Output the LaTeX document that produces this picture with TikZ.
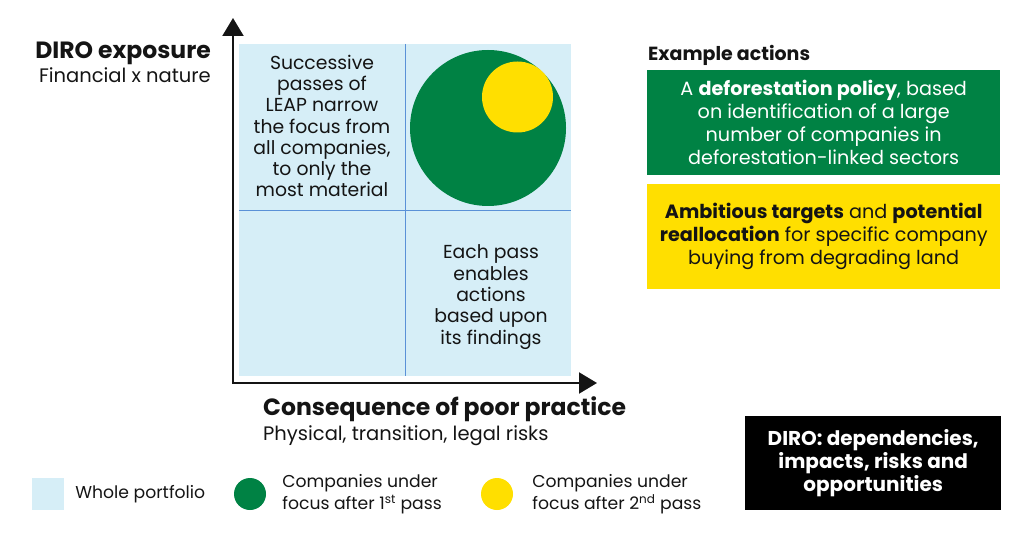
\documentclass[tikz,border=0pt]{standalone}
\usepackage{fontspec}
\setmainfont{Poppins}
\usetikzlibrary{arrows.meta, positioning}

\definecolor{leapgreen}{RGB}{0,130,68}
\definecolor{leapyellow}{RGB}{255,223,0}
\definecolor{leapblue}{RGB}{214,238,247}
\definecolor{gridblue}{RGB}{90,145,215}
\definecolor{ink}{RGB}{20,20,20}

\begin{document}
\begin{tikzpicture}[x=1pt, y=-1pt,
        arr/.style={{Triangle[length=18pt,width=21pt]}-{Triangle[length=18pt,width=21pt]},
                    line width=2.2pt, ink},
        grid/.style={gridblue, line width=1pt},
        quad/.style={align=center, text=ink, font=\fontsize{18.8}{21.3}\selectfont},
        head/.style={inner sep=0pt, text=ink, font=\fontsize{23.5}{26}\selectfont\bfseries},
        sub/.style={inner sep=0pt, text=ink, font=\fontsize{19.5}{22}\selectfont},
        act/.style={anchor=north west, minimum width=353pt, minimum height=105pt,
                    inner sep=0pt, align=center, font=\fontsize{19.2}{23}\selectfont},
        dot/.style={circle, inner sep=0pt, minimum size=32pt},
        key/.style={align=left, inner sep=0pt, text=ink,
                    font=\fontsize{17.2}{22}\selectfont},
        node distance=11pt]
      \useasboundingbox (0,0) rectangle (1024,534);
      % matrix
      \node[fill=leapblue, anchor=north west, minimum size=332pt, inner sep=0pt] (pf) at (239,44) {};
      \draw[grid] (pf.north) -- (pf.south);
      \draw[grid] (pf.west) -- (pf.east);
      \node[circle, fill=leapgreen, minimum size=156pt, inner sep=0pt] (pass1) at (488,128) {};
      \node[circle, fill=leapyellow, minimum size=71pt, inner sep=0pt] (pass2) at (517.5,97) {};
      \node[quad] (narrow) at (322,126) {Successive\\passes of\\LEAP narrow\\the focus from\\all companies,\\to only the\\most material};
      \node[quad] (enable) at (491,297) {Each pass\\enables\\actions\\based upon\\its findings};
      % axes
      \coordinate (o) at (233,383);
      \coordinate (ytip) at (233,18);
      \coordinate (xtip) at (597,383);
      \draw[arr] (ytip) -- (o) -- (xtip);
      \node[head, anchor=base east] (ytitle) at (211,59) {DIRO exposure};
      \node[sub, anchor=base east] (ysub) at (211,83) {Financial x nature};
      \node[head, anchor=base west] (xtitle) at (263,415) {Consequence of poor practice};
      \node[sub, anchor=base west] (xsub) at (263,440) {Physical, transition, legal risks};
      % actions
      \node[head, anchor=base west, font=\fontsize{19}{22}\selectfont\bfseries] (extitle) at (648,61) {Example actions};
      \node[act, fill=leapgreen, text=white] (policy) at (647,70)
        {A \textbf{deforestation policy}, based\\on identification of a large\\number of companies in\\deforestation-linked sectors};
      \node[act, fill=leapyellow, text=ink, below=8pt of policy] (target)
        {\textbf{Ambitious targets} and \textbf{potential}\\\textbf{reallocation} for specific company\\buying from degrading land};
      \node[act, fill=black, text=white, minimum width=256pt, minimum height=94pt,
            font=\fontsize{20}{23}\selectfont\bfseries] (diro) at (745,416)
        {DIRO: dependencies,\\impacts, risks and\\opportunities};
      % legend
      \node[fill=leapblue, minimum size=32pt, inner sep=0pt] (keypf) at (48,494) {};
      \node[key, right=of keypf] (keypftxt) {Whole portfolio};
      \node[dot, fill=leapgreen] (key1) at (250,494) {};
      \node[key, right=16pt of key1] (key1txt) {Companies under\\focus after 1\textsuperscript{st} pass};
      \node[dot, fill=leapyellow] (key2) at (497,494) {};
      \node[key, right=19pt of key2] (key2txt) {Companies under\\focus after 2\textsuperscript{nd} pass};
    \end{tikzpicture}
\end{document}
